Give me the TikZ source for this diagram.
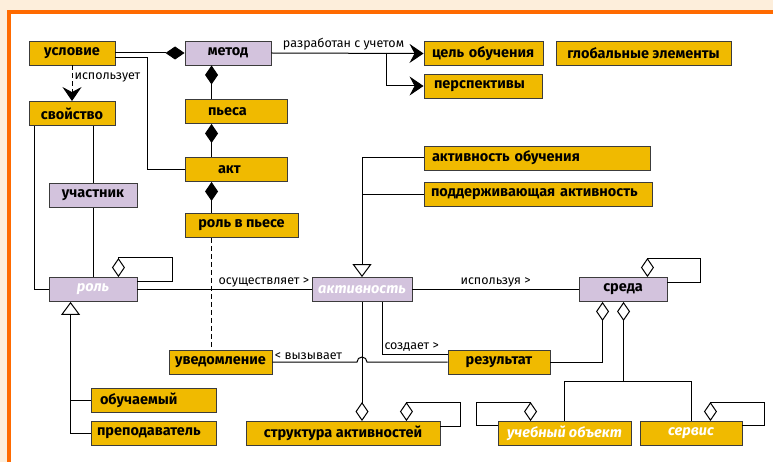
\documentclass[tikz,border=0pt]{standalone}
\usepackage{fontspec}
\setmainfont{Fira Sans}
\usetikzlibrary{arrows.meta}
\definecolor{boxyellow}{HTML}{F0BA00}
\definecolor{boxlilac}{HTML}{D3C3DD}
\definecolor{frameorange}{HTML}{FF6A00}
\definecolor{framepeach}{HTML}{FDEEDB}
\definecolor{boxline}{HTML}{3C3C3C}
\tikzset{
    box/.style={draw=boxline,line width=0.9pt,fill=boxyellow,minimum height=24pt,inner ysep=2pt,font=\fontsize{14.5}{16}\selectfont\bfseries},
    cls/.style={box,fill=boxlilac},
    lbox/.style={box,align=left},
    abstr/.style={text=white,font=\fontsize{14.5}{16}\selectfont\bfseries\itshape},
    lbl/.style={font=\fontsize{12.5}{14}\selectfont,inner sep=2pt},
    comp/.style={-{Diamond[length=19pt,width=13pt]}},
    aggr/.style={-{Diamond[open,fill=white,length=19pt,width=13pt]}},
    gen/.style={-{Triangle[open,fill=white,length=13pt,width=19pt]}},
    nav/.style={-{Stealth[length=14pt,width=19pt,inset=5pt]}}
}
\begin{document}
\begin{tikzpicture}[x=1pt,y=-1pt,line width=1pt]
    \useasboundingbox (0,0) rectangle (773,462);
    \fill[framepeach] (0,0) rectangle (773,462);
    \fill[white] (11,14) rectangle (773,462);
    \fill[frameorange] (7,10) rectangle (773,14);
    \fill[frameorange] (7,10) rectangle (11,462);

    % boxes
    \node[box,minimum width=86pt] (uslovie) at (72,53) {условие};
    \node[cls,minimum width=86pt] (metod) at (228,53) {метод};
    \node[box,minimum width=86pt] (svojstvo) at (72,113.5) {свойство};
    \node[lbox,inner xsep=23pt,text width=56pt] (pyesa) at (236,111.5) {пьеса};
    \node[lbox,inner xsep=33pt,text width=36pt] (akt) at (236,169.5) {акт};
    \node[cls,minimum width=88pt] (uchastnik) at (93,195.5) {участник};
    \node[box,minimum width=113pt] (rolp) at (241.5,225.5) {роль в пьесе};
    \node[cls,minimum width=88pt,abstr] (rol) at (93,289.5) {роль};
    \node[cls,minimum width=100pt,abstr] (aktivnost) at (362,289.5) {активность};
    \node[cls,minimum width=88pt] (sreda) at (623,289.5) {среда};
    \node[lbox,inner xsep=8pt,text width=103pt] (tsel) at (483.5,53.5) {цель обучения};
    \node[lbox,inner xsep=10pt,text width=98pt] (persp) at (483,86) {перспективы};
    \node[box,minimum width=175pt] (global) at (643.5,53.5) {глобальные элементы};
    \node[lbox,inner xsep=8pt,text width=210pt] (aktob) at (537,158) {активность обучения};
    \node[lbox,inner xsep=7pt,text width=214pt] (podd) at (538,194.5) {поддерживающая активность};
    \node[box,minimum width=103pt] (uvedom) at (220.5,362) {уведомление};
    \node[box,minimum width=102pt] (rezult) at (499,362) {результат};
    \node[lbox,inner xsep=9pt,text width=107pt] (obuch) at (153.5,400) {обучаемый};
    \node[lbox,inner xsep=6pt,text width=113pt] (prepod) at (153.5,433.5) {преподаватель};
    \node[box,minimum width=194pt] (strukt) at (343,433.5) {структура активностей};
    \node[box,minimum width=133pt,abstr] (ucheb) at (564.5,433.5) {учебный объект};
    \node[box,minimum width=102pt,abstr] (servis) at (691,433.5) {сервис};

    % top part
    \draw[comp] (uslovie.east) -- (metod.west);
    \draw ([yshift=-5]uslovie.east) -| ([xshift=-37]akt.west) -- (akt.west);
    \draw[nav,dashed,dash pattern=on 5pt off 3pt] (uslovie.south) -- node[lbl,right,pos=0.35] {использует} (svojstvo.north);
    \draw ([xshift=-38]svojstvo.south) |- (rol.west);
    \draw (svojstvo.south -| uchastnik.north) -- (uchastnik.north);
    \draw (uchastnik.south) -- (rol.north);
    \draw[comp] ([xshift=27]pyesa.north west) -- ([xshift=27]metod.south west);
    \draw[comp] ([xshift=27]akt.north west) -- ([xshift=27]pyesa.south west);
    \draw[comp] ([xshift=27]rolp.north west) -- ([xshift=27]akt.south west);
    \draw[dashed,dash pattern=on 5pt off 3pt] ([xshift=27]rolp.south west) -- ([xshift=27]rolp.south west |- uvedom.north);
    \draw[nav] (metod.east) -- node[lbl,above right,pos=0,xshift=9pt] {разработан с учетом} (tsel.west);
    \draw[nav] ([xshift=115]metod.east) |- (persp.west);

    % middle row
    \draw[aggr] ([yshift=-4]rol.north east) -- ++(35,0) |- ([xshift=-19,yshift=20]rol.north east) -- ([xshift=-19]rol.north east); % loop
    \draw (rol.east) -- node[lbl,above left,pos=1] {осуществляет >} (aktivnost.west);
    \draw (aktivnost.east) -- node[lbl,above] {используя >} (sreda.west);
    \draw[aggr] ([yshift=-5]sreda.north east) -- ++(33,0) |- ([xshift=-20,yshift=19]sreda.north east) -- ([xshift=-20]sreda.north east); % loop
    \draw[gen] (aktob.west) -| (aktivnost.north);
    \draw (podd.west) -- (podd.west -| aktivnost.north);

    % lower part
    \draw[aggr] (aktivnost.south) -- (aktivnost.south |- strukt.north);
    \draw ([xshift=20]aktivnost.south) |- node[lbl,above right,pos=0.5] {создает >} ([yshift=8]rezult.west);
    \draw (rezult.west) -- ([xshift=5]aktivnost.south |- rezult.west) arc[start angle=0,end angle=180,radius=5pt] -- node[lbl,above right,pos=1] {< вызывает} (uvedom.east);
    \draw[aggr] (rezult.east) -| ([xshift=24]sreda.south west);
    \draw[aggr] ([xshift=45,yshift=-79]sreda.south west) -- ([xshift=45]sreda.south west);
    \draw (ucheb.north) |- ([yshift=40]servis.north) -- (servis.north);
    \draw[aggr] ([yshift=-5]strukt.north east) -- ++(20,0) |- ([xshift=-34,yshift=19]strukt.north east) -- ([xshift=-34]strukt.north east); % loop
    \draw[aggr] ([yshift=-4]ucheb.north west) -- ++(-21,0) |- ([xshift=33,yshift=19]ucheb.north west) -- ([xshift=33]ucheb.north west); % loop
    \draw[aggr] ([yshift=-4]servis.north east) -- ++(22,0) |- ([xshift=-32,yshift=19]servis.north east) -- ([xshift=-32]servis.north east); % loop
    \draw[gen] (prepod.west) -| ([xshift=22]rol.south west);
    \draw (obuch.west) -- ([xshift=22]rol.south west |- obuch.west);
\end{tikzpicture}
\end{document}
